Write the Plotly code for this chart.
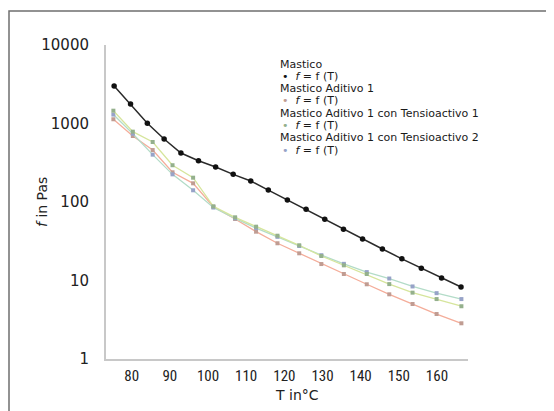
import plotly.graph_objects as go

# ---------------- data ----------------
t_mastico = [75.4, 79.7, 84.1, 88.5, 92.9, 97.5, 102.0, 106.6, 111.2, 115.8,
             120.8, 125.7, 130.6, 135.5, 140.5, 145.7, 150.8, 155.9, 161.2, 166.3]
f_mastico = [3005, 1771, 1006, 635, 421, 336, 279, 225, 185, 142,
             106, 80.7, 60.2, 44.9, 33.8, 25.2, 18.9, 14.3, 10.8, 8.26]

t_other = [75.2, 80.3, 85.5, 90.7, 96.1, 101.4, 107.1, 112.6, 118.2, 123.9,
           129.7, 135.6, 141.6, 147.5, 153.6, 159.9, 166.4]
f_aditivo1 = [1132, 693, 459, 239, 173, 87, 60.7, 41.9, 29.8, 22.2,
              16.2, 12.1, 8.95, 6.67, 5.02, 3.74, 2.85]
f_tensio1 = [1456, 787, 581, 294, 204, 88, 63.8, 48.5, 37.2, 28.1,
             20.5, 15.6, 12.1, 9.0, 7.0, 5.8, 4.7]
f_tensio2 = [1300, 740, 401, 225, 141, 85, 62, 46.5, 36, 27.5,
             21, 16.3, 12.8, 10.6, 8.4, 6.9, 5.8]

series_names = ["Mastico", "Mastico Aditivo 1",
                "Mastico Aditivo 1 con Tensioactivo 1",
                "Mastico Aditivo 1 con Tensioactivo 2"]
item_label = "<i>f</i> = f (T)"
x_ticks = [80, 90, 100, 110, 120, 130, 140, 150, 160]
y_ticks = [1, 10, 100, 1000, 10000]

# ---------------- layout geometry ----------------
OFF = 8                      # page body margin of the browser
W, H = 554 - OFF, 411 - OFF
PL, PR, PT, PB = 106, 468, 45, 359   # plot area in window pixels
L, T = PL - OFF, PT - OFF
R, B = W - (PR - OFF), H - (PB - OFF)
PW, PH = W - L - R, H - T - B


def px(x):
    return (x - OFF - L) / PW


def py(y):
    return (H - B - (y - OFF)) / PH


fig = go.Figure()

line_cols = ["#2a2a2a", "#f4ad9a", "#d6e59c", "#b3dcc8"]
mark_cols = ["#111111", "#c09c92", "#94b08c", "#97a3c8"]
ys = [f_mastico, f_aditivo1, f_tensio1, f_tensio2]
xs = [t_mastico, t_other, t_other, t_other]

for i in [1, 3, 2, 0]:
    fig.add_trace(go.Scatter(
        x=xs[i], y=ys[i], mode="lines+markers", name=series_names[i],
        line=dict(color=line_cols[i], width=1.5 if i == 0 else 1.3),
        marker=dict(color=mark_cols[i], size=5.5 if i == 0 else 4,
                    symbol="circle" if i == 0 else "square"),
        showlegend=False,
    ))

fig.update_layout(
    width=W, height=H,
    margin=dict(l=L, r=R, t=T, b=B, autoexpand=False),
    paper_bgcolor="white", plot_bgcolor="white",
    showlegend=False,
    xaxis=dict(range=[73.27, 168.13], tickvals=x_ticks,
               ticktext=[str(v) for v in x_ticks],
               showgrid=False, zeroline=False, showline=True,
               linecolor="#c8c8c8", linewidth=2, ticks="",
               ticklabelstandoff=2,
               tickfont=dict(family="Liberation Sans Narrow, Roboto Condensed, Roboto",
                             size=15, color="#222")),
    yaxis=dict(type="log", range=[0, 4], tickvals=y_ticks,
               ticktext=[str(v) for v in y_ticks],
               showgrid=False, zeroline=False, showline=True,
               linecolor="#c8c8c8", linewidth=2, ticks="",
               ticklabelstandoff=12,
               tickfont=dict(family="DejaVu Sans", size=15, color="#222")),
)

# outer frame (left and top edges visible, others run off the picture)
fig.add_shape(type="rect", xref="paper", yref="paper",
              x0=px(9), x1=px(620), y0=py(470), y1=py(11),
              line=dict(color="#6f6f6f", width=1.5), layer="below")

# axis titles
fig.add_annotation(xref="paper", yref="paper", x=px(297), y=py(395),
                   text="T in°C", showarrow=False,
                   xanchor="center", yanchor="middle", borderpad=0,
                   font=dict(family="DejaVu Sans", size=14, color="#222"))
fig.add_annotation(xref="paper", yref="paper", x=px(42), y=py(202),
                   text="<i>f</i> in Pas", showarrow=False, textangle=-90,
                   xanchor="center", yanchor="middle",
                   font=dict(family="DejaVu Sans", size=14, color="#222"))

# legend drawn as text
leg_font = dict(family="DejaVu Sans", size=11, color="#1a1a1a")
y0 = 64
pitch = 12.3
for i, nm in enumerate(series_names):
    fig.add_annotation(xref="paper", yref="paper", x=px(279),
                       y=py(y0 + pitch * 2 * i), text=nm, showarrow=False,
                       xanchor="left", yanchor="middle", font=leg_font,
                       borderpad=0)
    fig.add_annotation(xref="paper", yref="paper", x=px(281),
                       y=py(y0 + pitch * (2 * i + 1)),
                       text=f"<span style='color:{mark_cols[i]}'>•</span>  " + item_label,
                       showarrow=False, xanchor="left", yanchor="middle",
                       font=leg_font, borderpad=0)

fig.write_html("out.html")
